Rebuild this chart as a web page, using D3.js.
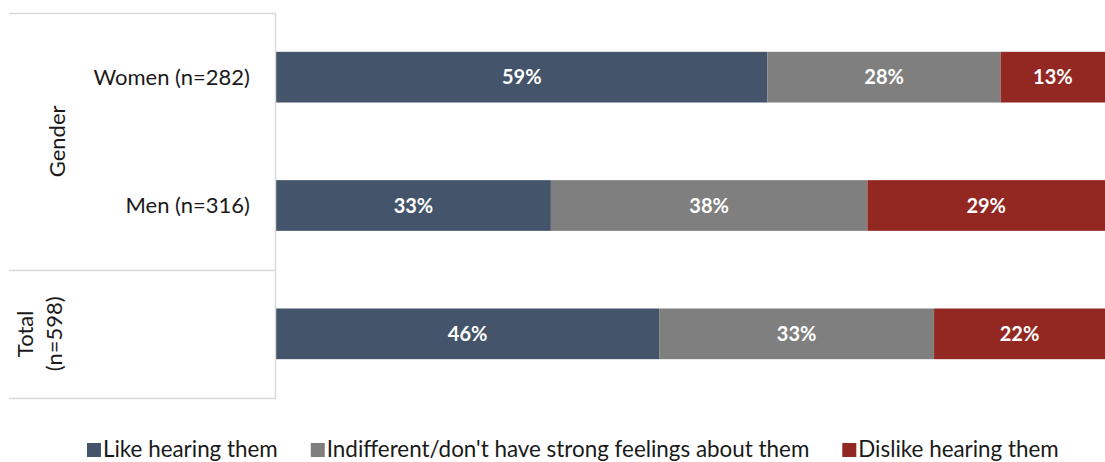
<!DOCTYPE html>
<html>
<head>
<meta charset="utf-8">
<script src="https://cdn.jsdelivr.net/npm/d3@7"></script>
<style>
  html, body { margin: 0; padding: 0; background: #fff; }
  svg { display: block; font-family: Lato, "Open Sans", sans-serif; }
</style>
</head>
<body>
<svg id="chart" width="1105" height="462"></svg>
<script>
// Categories (rows), top to bottom
const categories = ["Women (n=282)", "Men (n=316)", "Total (n=598)"];

// Response series, in stacking order
const seriesNames = [
  "Like hearing them",
  "Indifferent/don't have strong feelings about them",
  "Dislike hearing them"
];
const likeValues = [59, 33, 46];
const indifferentValues = [28, 38, 33];
const dislikeValues = [13, 29, 22];

// Row grouping shown in the left-hand column
const groupNames = ["Gender", "Total\n(n=598)"];
const groupMembers = [["Women (n=282)", "Men (n=316)"], ["Total (n=598)"]];
// Rows that get their own label next to the bar
const rowLabels = ["Women (n=282)", "Men (n=316)"];

const colors = ["#44546A", "#7F7F7F", "#922821"];

const W = 1105, H = 462;
const svg = d3.select("#chart");
svg.append("rect").attr("width", W).attr("height", H).attr("fill", "#fff");

const plotLeft = 276;
const x = d3.scaleLinear().domain([0, 100]).range([plotLeft, 1109]);
const y = d3.scaleBand().domain(categories).range([13, 398])
  .paddingInner(0.605).paddingOuter(0.3025);

const rows = categories.map((c, i) => ({
  category: c,
  [seriesNames[0]]: likeValues[i],
  [seriesNames[1]]: indifferentValues[i],
  [seriesNames[2]]: dislikeValues[i]
}));
const stacked = d3.stack().keys(seriesNames)(rows);

// Stacked bars
const layer = svg.append("g").selectAll("g")
  .data(stacked).join("g")
  .attr("fill", (d, i) => colors[i]);

layer.selectAll("rect")
  .data(d => d).join("rect")
  .attr("x", d => x(d[0]))
  .attr("y", d => y(d.data.category))
  .attr("width", d => x(d[1]) - x(d[0]))
  .attr("height", y.bandwidth());

// Value labels centred in each segment
layer.selectAll("text")
  .data(d => d).join("text")
  .attr("x", d => (x(d[0]) + Math.min(x(d[1]), W)) / 2)
  .attr("y", d => y(d.data.category) + y.bandwidth() / 2)
  .attr("dy", "0.36em")
  .attr("text-anchor", "middle")
  .attr("fill", "#fff")
  .attr("font-weight", "bold")
  .attr("font-size", 20)
  .text(d => (d[1] - d[0]) + "%");

// Left category column: frame lines
const lineColor = "#D9D9D9";
const axisG = svg.append("g");
const step = y.step();
const r0 = y.range()[0], r1 = y.range()[1];
const boundaries = [r0];
let acc = r0;
groupMembers.forEach(m => { acc += m.length * step; boundaries.push(acc); });

axisG.selectAll("line.h")
  .data(boundaries).join("line")
  .attr("class", "h")
  .attr("x1", 9).attr("x2", plotLeft - 0.5)
  .attr("y1", d => Math.round(d) + 0.5).attr("y2", d => Math.round(d) + 0.5)
  .attr("stroke", lineColor).attr("stroke-width", 1.5);

axisG.append("line")
  .attr("x1", plotLeft - 0.5).attr("x2", plotLeft - 0.5)
  .attr("y1", r0).attr("y2", Math.round(r1) + 1)
  .attr("stroke", lineColor).attr("stroke-width", 1.5);

// Row labels
axisG.selectAll("text.row")
  .data(rowLabels).join("text")
  .attr("class", "row")
  .attr("x", 250)
  .attr("y", d => y(d) + y.bandwidth() / 2)
  .attr("dy", "0.36em")
  .attr("text-anchor", "end")
  .attr("font-size", 22)
  .attr("fill", "#1a1a1a")
  .text(d => d);

// Group labels, rotated
groupNames.forEach((g, i) => {
  const cy = (boundaries[i] + boundaries[i + 1]) / 2;
  const lines = g.split("\n");
  const lh = 29;
  const cx = i === 0 ? 57 : 40;
  const t = axisG.append("text")
    .attr("transform", `translate(${cx},${cy}) rotate(-90)`)
    .attr("text-anchor", "middle")
    .attr("font-size", 22)
    .attr("fill", "#1a1a1a");
  lines.forEach((ln, j) => {
    t.append("tspan")
      .attr("x", 0)
      .attr("y", (j - (lines.length - 1) / 2) * lh)
      .attr("dy", "0.36em")
      .text(ln);
  });
});

// Legend
const legend = svg.append("g");
const legendY = 449;
const items = legend.selectAll("g").data(seriesNames).join("g");
items.append("rect")
  .attr("width", 14).attr("height", 14)
  .attr("y", legendY - 6)
  .attr("fill", (d, i) => colors[i]);
items.append("text")
  .attr("x", 16)
  .attr("y", legendY)
  .attr("dy", "0.36em")
  .attr("font-size", 22.4)
  .attr("fill", "#1a1a1a")
  .text(d => d);

let lx = 87;
items.each(function () {
  const g = d3.select(this);
  g.attr("transform", `translate(${lx},0)`);
  const tw = g.select("text").node().getComputedTextLength();
  lx += 16 + tw + 33;
});
</script>
</body>
</html>
